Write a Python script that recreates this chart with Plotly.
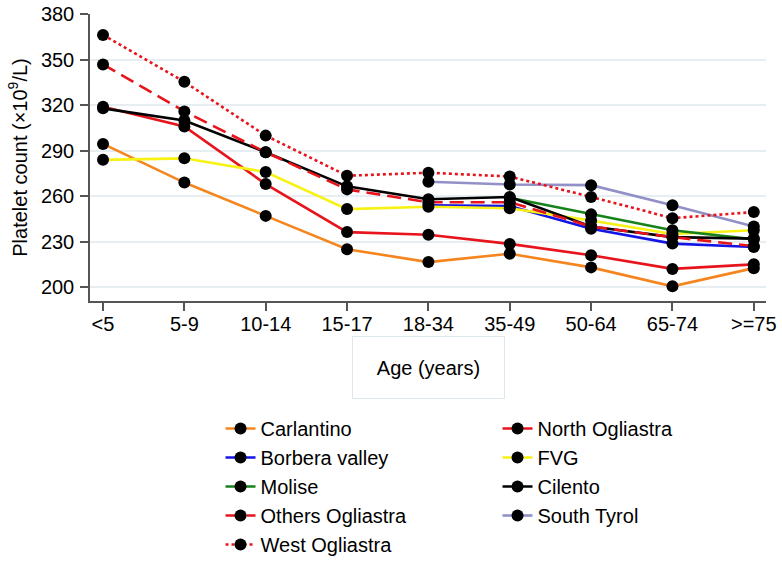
import plotly.graph_objects as go

# age groups on the x axis
ages = ["<5", "5-9", "10-14", "15-17", "18-34", "35-49", "50-64", "65-74", ">=75"]

# mean platelet count per population (x10^9/L), None where not sampled
carlantino = [294.5, 269, 247, 225, 216.5, 222, 213, 200.5, 212.5]
north_ogliastra = [319, 306, 268, 236.3, 234.5, 228.5, 221, 212, 215]
borbera = [None, None, None, None, 254, 253.5, 238.5, 228.7, 226.5]
fvg = [284, 285, 276, 251.5, 253, 252, 244, 235, 237.5]
molise = [None, None, None, None, None, 259, 248, 237.5, 231.5]
cilento = [318, 310, 289, 266.5, 258, 259.5, 240, 233, 232]
others_ogliastra = [347, 316, 289, 264.5, 256, 256, 240, 233, 227]
south_tyrol = [None, None, None, None, 269.5, 267.7, 267.3, 254, 240]
west_ogliastra = [366.5, 335.5, 300, 273.5, 275.5, 273, 259.5, 245.5, 249.5]

yticks = [200, 230, 260, 290, 320, 350, 380]

# legend is laid out row by row (2 columns), so order traces that way
series = [
    ("Carlantino", carlantino, "#f5861f", "solid"),
    ("North Ogliastra", north_ogliastra, "#e8141c", "solid"),
    ("Borbera valley", borbera, "#1414e6", "solid"),
    ("FVG", fvg, "#f7f214", "solid"),
    ("Molise", molise, "#17821a", "solid"),
    ("Cilento", cilento, "#000000", "solid"),
    ("Others Ogliastra", others_ogliastra, "#e8141c", "14px,7px"),
    ("South Tyrol", south_tyrol, "#9191c8", "solid"),
    ("West Ogliastra", west_ogliastra, "#e8141c", "dot"),
]

fig = go.Figure()
for name, vals, col, dash in series:
    fig.add_trace(go.Scatter(
        x=ages, y=vals, name=name, mode="lines+markers",
        line=dict(color=col, width=2.6, dash=dash),
        marker=dict(color="black", size=12),
        connectgaps=False,
    ))

fnt = "Liberation Sans, Arial, sans-serif"
fig.update_layout(
    width=782, height=566,
    margin=dict(l=90, r=16, t=14, b=265, autoexpand=False),
    plot_bgcolor="white", paper_bgcolor="white",
    font=dict(family=fnt, size=19, color="black"),
    showlegend=True,
    legend=dict(
        orientation="h", xref="container", yref="container",
        x=0.282, xanchor="left", y=0.2774, yanchor="top",
        entrywidth=232, font=dict(size=20), traceorder="normal",
        bgcolor="rgba(0,0,0,0)",
    ),
    annotations=[dict(
        text="Age (years)", x=0.5, y=-0.23, xref="paper", yref="paper",
        xanchor="center", yanchor="middle",
        showarrow=False, font=dict(size=20), width=149, height=59,
        bordercolor="#dde7ec", borderwidth=1,
    )],
)
fig.update_xaxes(
    type="category", range=[-0.16, 8.15], automargin=False,
    showline=True, linecolor="#555555", linewidth=1.5,
    ticks="outside", ticklen=8, tickcolor="#555555", tickwidth=1.5,
    showgrid=False, tickfont=dict(size=20), ticklabelstandoff=-4,
)
fig.update_yaxes(
    range=[190.8, 380.3], tickvals=yticks, automargin=False,
    showline=True, linecolor="#555555", linewidth=1.5,
    ticks="outside", ticklen=8, tickcolor="#555555", tickwidth=1.5,
    gridcolor="#e6eef1", gridwidth=1.5, zeroline=False,
    tickfont=dict(size=20), ticklabelstandoff=2,
    title=dict(text="Platelet count (×10<sup>9</sup>/L)", font=dict(size=20), standoff=8),
)

# drop the page's default body margin so the chart sits at the window corner
fig.write_html("out.html", config={"displayModeBar": False},
               post_script="document.body.style.margin='0';")
